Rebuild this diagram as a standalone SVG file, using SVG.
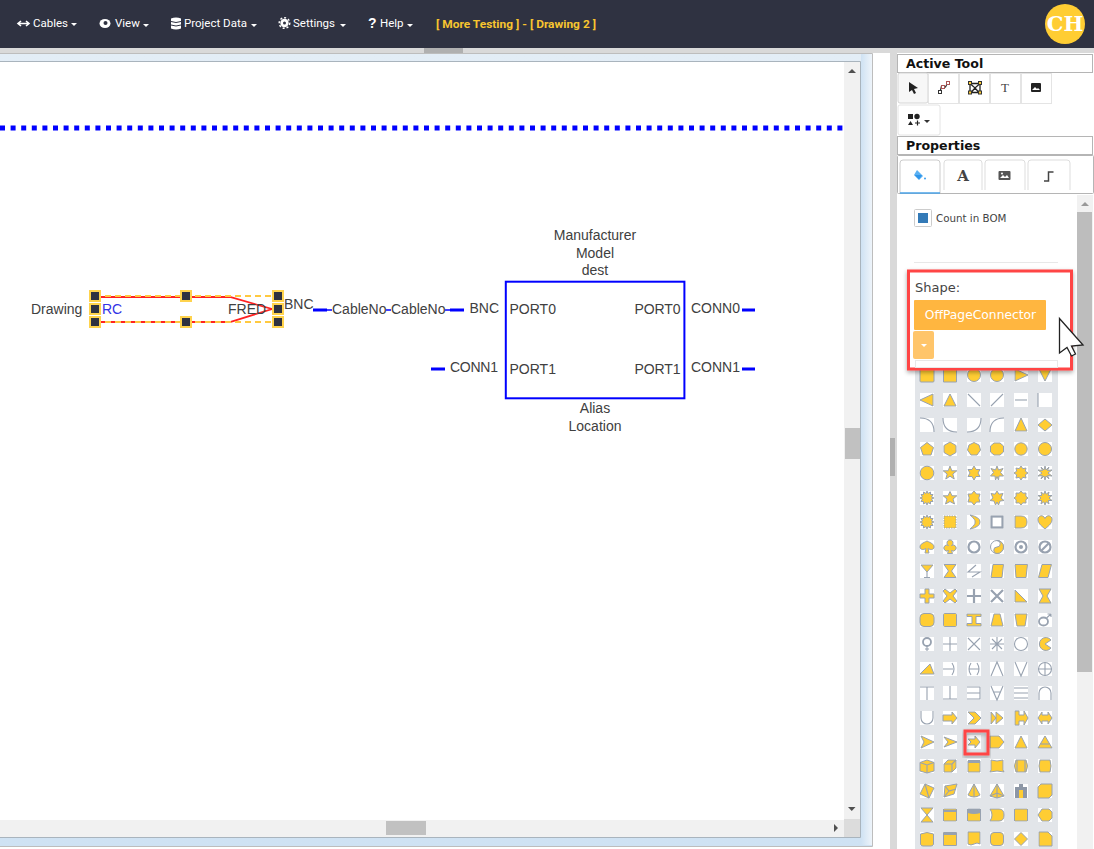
<svg xmlns="http://www.w3.org/2000/svg" width="1094" height="849" viewBox="0 0 1094 849">
<style>
text{font-family:"Liberation Sans",Arial,sans-serif}
.m{font-family:Roboto,"Liberation Sans",sans-serif;font-size:11.500px;font-weight:400;fill:#fff}
.tt{font-family:Roboto,"Liberation Sans",sans-serif;font-size:11.500px;font-weight:700;fill:#f7c52f}
.c{font-size:14px;fill:#404040}
.mid{text-anchor:middle}
.end{text-anchor:end}
.h{font-family:"DejaVu Sans",sans-serif;font-size:12.600px;font-weight:700;fill:#111}
.d{font-family:"DejaVu Sans",sans-serif;fill:#444}
.serif{font-family:"DejaVu Serif",serif}
.b{fill:#fff;stroke:#e4e4e4;stroke-width:1}
.stub{stroke:#00f;stroke-width:3;fill:none}
.thin{stroke:#00f;stroke-width:1.500;fill:none}
.hd{fill:#2f3241;stroke:#ffd34d;stroke-width:2}
.t{fill:#fff}
.f{fill:#ffcd33;stroke:#98a2b0;stroke-width:1;stroke-linejoin:round}
.l{fill:none;stroke:#98a2b0;stroke-width:1.100}
.k{fill:none;stroke:#98a2b0;stroke-width:2.200}
.sb{fill:#f1f1f1}
.th{fill:#c1c1c1}
.ar{fill:#505050}
.ic{fill:#222}
</style>
<defs>
<linearGradient id="fr" x1="0" y1="0" x2="0" y2="1"><stop offset="0" stop-color="#e3edf6"/><stop offset="1" stop-color="#cfe2f3"/></linearGradient>
<linearGradient id="fr2" x1="0" y1="0" x2="1" y2="0"><stop offset="0" stop-color="#cfe2f3"/><stop offset="1" stop-color="#eef4fa"/></linearGradient>
<filter id="sh" x="-10%" y="-10%" width="120%" height="125%"><feDropShadow dx="0" dy="2" stdDeviation="2" flood-color="#000" flood-opacity=".35"/></filter>
<rect id="tile" class="t" x="-7" y="-7" width="14" height="14"/>
</defs>

<g id="page-chrome">
<rect width="1094" height="849" fill="#fff"/>
<rect x="0" y="48" width="1094" height="5" fill="#d9d9d9"/>
<rect x="424" y="48" width="39" height="5" fill="#b0b0b0"/>
<rect x="0" y="53" width="872" height="793" fill="url(#fr)"/>
<rect x="861" y="54" width="11" height="791" fill="url(#fr2)"/>
<path d="M0 53.500H872.500V846.500H0" fill="none" stroke="#bdbdbd"/>
<path d="M0 61.500H860.500V837.500H0" fill="none" stroke="#a9b4bd"/>
<rect x="0" y="62" width="860" height="775" fill="#fff"/>
<rect x="890" y="53" width="7" height="796" fill="#d9d9d9"/>
<rect x="890" y="438" width="5" height="38" fill="#b0b0b0"/>
</g>

<g id="header">
<rect width="1094" height="48" fill="#2f3241"/>
<path d="M18 23.500H29M21 21l-3 2.500 3 2.500M26 21l3 2.500-3 2.500" fill="none" stroke="#fff" stroke-width="1.600"/>
<text class="m" x="33" y="27">Cables</text><path d="M71 23h6l-3 3z" fill="#fff"/>
<ellipse cx="105" cy="23.500" rx="5.500" ry="4.500" fill="#fff"/><circle cx="105.500" cy="23" r="2" fill="#2f3241"/>
<text class="m" x="115" y="27">View</text><path d="M143 24h6l-3 3z" fill="#fff"/>
<path d="M171 18.500q5-2 10 0v10q-5 2-10 0z" fill="#fff"/><path d="M171 21.500q5 2 10 0M171 25q5 2 10 0" fill="none" stroke="#2f3241"/>
<text class="m" x="184" y="27">Project Data</text><path d="M251 24h6l-3 3z" fill="#fff"/>
<circle cx="284.500" cy="23" r="4.200" fill="#fff"/><circle cx="284.500" cy="23" r="5.300" fill="none" stroke="#fff" stroke-width="1.400" stroke-dasharray="2 2"/><circle cx="284.500" cy="23" r="1.500" fill="#2f3241"/>
<text class="m" x="293" y="27">Settings</text><path d="M340 24h6l-3 3z" fill="#fff"/>
<text x="368" y="28" font-size="14" font-weight="700" fill="#fff">?</text>
<text class="m" x="380" y="27">Help</text><path d="M407 24h6l-3 3z" fill="#fff"/>
<text class="tt" x="436" y="28" textLength="160" lengthAdjust="spacingAndGlyphs">[ More Testing ] - [ Drawing 2 ]</text>
<circle cx="1065" cy="24" r="20" fill="#ffcd33"/>
<text x="1065" y="31" class="mid serif" font-size="21" font-weight="700" fill="#fff">CH</text>
</g>

<g id="scrollbars">
<rect class="sb" x="844" y="62" width="16" height="757"/>
<rect class="sb" x="0" y="820" width="844" height="17"/>
<rect x="844" y="819" width="16" height="18" fill="#dcdcdc"/>
<rect class="th" x="845" y="428" width="15" height="31"/>
<rect class="th" x="386" y="821" width="40" height="14"/>
<path class="ar" d="M848 73l4-4 4 4zM848 807h7.500l-3.750 4zM834 824v8l4-4z"/>
</g>

<g id="connectors">
<path d="M0 128H844" stroke="#00f" stroke-width="5" stroke-dasharray="5 5.600" fill="none"/>
<path class="stub" d="M313 310H327M450 310H464M431 369H445M742 310H755M742 369H755"/>
<path class="thin" d="M327 310H332M386 310H391M445 310H450"/>
<path d="M95 297H230L272 309L230 322H95" fill="none" stroke="#f22" stroke-width="1.800"/>
<path d="M95 296H278M95 322H278" fill="none" stroke="#ffc940" stroke-width="2" stroke-dasharray="6 4"/>
</g>

<g id="node-source">
<text class="c" x="31" y="314">Drawing</text>
<text x="102" y="314" font-size="14" fill="#3333e6">RC</text>
<text class="c" x="228" y="314">FRED</text>
<text class="c" x="284" y="309">BNC</text>
<g id="handles">
<rect class="hd" x="90" y="291" width="10" height="10"/><rect class="hd" x="181" y="291" width="10" height="10"/><rect class="hd" x="273" y="291" width="10" height="10"/>
<rect class="hd" x="90" y="304" width="10" height="10"/><rect class="hd" x="273" y="304" width="10" height="10"/>
<rect class="hd" x="90" y="317" width="10" height="10"/><rect class="hd" x="181" y="317" width="10" height="10"/><rect class="hd" x="273" y="317" width="10" height="10"/>
</g>
</g>

<g id="node-cable-labels">
<text class="c" x="332" y="314">CableNo</text>
<text class="c" x="391" y="314">CableNo</text>
</g>

<g id="node-device">
<rect x="505.800" y="281.700" width="178.600" height="116.600" fill="#fff" stroke="#00f" stroke-width="2"/>
<text class="c mid" x="595" y="240">Manufacturer</text>
<text class="c mid" x="595" y="258">Model</text>
<text class="c mid" x="595" y="275">dest</text>
<text class="c end" x="499" y="313">BNC</text>
<text class="c end" x="498" y="372" textLength="48">CONN1</text>
<text class="c" x="509.500" y="314">PORT0</text>
<text class="c" x="509.500" y="374">PORT1</text>
<text class="c" x="634.500" y="314" textLength="46">PORT0</text>
<text class="c" x="634.500" y="374" textLength="46">PORT1</text>
<text class="c" x="691" y="313">CONN0</text>
<text class="c" x="691" y="372">CONN1</text>
<text class="c mid" x="595" y="413">Alias</text>
<text class="c mid" x="595" y="431">Location</text>
</g>

<g id="panel-tools">
<rect x="897.500" y="54.500" width="195" height="18" fill="#fff" stroke="#b5b5b5"/>
<text class="h" x="906" y="68">Active Tool</text>
<rect x="898" y="73" width="30" height="30" rx="2" fill="#f7f7f7" stroke="#d5d5d5"/>
<rect class="b" x="928.500" y="73.500" width="30" height="30"/><rect class="b" x="959.500" y="73.500" width="30" height="30"/><rect class="b" x="990.500" y="73.500" width="30" height="30"/><rect class="b" x="1021.500" y="73.500" width="30" height="30"/>
<path class="ic" d="M909 82l9 6-4 1 2 4-2 1-2-4-3 2z"/>
<path d="M940 92l1.500-6 4 1 2.500-5" fill="none" stroke="#333" stroke-width="1.200"/><g fill="#fff" stroke="#333"><rect x="938.500" y="90.500" width="3" height="3"/><rect x="946.500" y="81.500" width="3" height="3" stroke="#a55"/><rect x="941.500" y="85.500" width="3" height="3" stroke="#a55"/></g>
<path d="M970 83.500h10v9h-10zM970 83.500l5 4.500 5-4.500M971 92.500l4-4.500 4 4.500" fill="none" stroke="#222" stroke-width="1.300"/><g fill="#ffcd33" stroke="#333"><rect x="968.500" y="81.500" width="3" height="3"/><rect x="978.500" y="81.500" width="3" height="3"/><rect x="968.500" y="91" width="3" height="3"/><rect x="978.500" y="91" width="3" height="3"/></g>
<text x="1005" y="92" class="mid" font-size="13" fill="#444" style="font-family:'Liberation Serif',serif">T</text>
<rect x="1031" y="83" width="10" height="9" rx="1" fill="#222"/><path d="M1032 90l3-3 2 2 1-1 2 2z" fill="#fff"/>
<rect x="898" y="105" width="42" height="30" rx="2" fill="#fff" stroke="#e4e4e4"/>
<rect x="908" y="114" width="5" height="5" fill="#222"/><circle cx="917" cy="116.500" r="2.700" fill="#222"/><path d="M908 125l2.500-4 2.500 4z" fill="#222"/><path d="M915 123h5M917.500 120.500v5" stroke="#222" stroke-width="1.200"/>
<path d="M924 120h6l-3 3z" fill="#333"/>
<rect x="897.500" y="136.500" width="195" height="18" fill="#fff" stroke="#b5b5b5"/>
<text class="h" x="906" y="150">Properties</text>
</g>

<g id="panel-tabs">
<rect x="897.500" y="155.500" width="196" height="38" rx="1" fill="#fff" stroke="#b5b5b5"/>
<path d="M900 193V163q0-3 3-3H937q3 0 3 3V193" fill="#fff" stroke="#ccc"/><path d="M900 193H940" stroke="#4aa3e8" stroke-width="1.500"/>
<path d="M944 190V163q0-3 3-3H979q3 0 3 3V190M985 190V163q0-3 3-3H1022q3 0 3 3V190M1028 190V163q0-3 3-3H1067q3 0 3 3V190" fill="#fff" stroke="#ddd"/>
<path d="M917 170l6 6-4 4-5-5z" fill="#5ab0f2"/><path d="M914.500 175H922l-3 4.500z" fill="#2f95ea"/><circle cx="925" cy="178.500" r="1" fill="#3ba0f0"/>
<text x="963" y="181" class="mid serif" font-size="15" font-weight="700" fill="#444">A</text>
<rect x="998.500" y="171" width="12" height="9" rx="1" fill="#555"/><path d="M1000 178l3-3 2 2 2-2 2 3z" fill="#fff"/><circle cx="1002" cy="173.500" r="1" fill="#fff"/>
<path d="M1044 181h4.500v-9h5" fill="none" stroke="#444" stroke-width="1.500"/>
</g>

<g id="panel-shape">
<rect x="1077" y="195" width="16" height="654" class="sb"/>
<rect x="1077" y="212" width="15" height="460" fill="#bdbdbd"/>
<path d="M1081 206l4-4 4 4z" fill="#999"/>
<rect x="914.500" y="209.500" width="17" height="17" rx="1" fill="#fff" stroke="#ccc"/>
<rect x="918" y="213" width="10" height="10" fill="#337ab7"/>
<text class="d" x="936" y="222" font-size="10.300">Count in BOM</text>
<path d="M914 262.500H1058" stroke="#e8e8e8"/>
</g>

<g id="shape-palette">
<rect x="915" y="362" width="143" height="487" fill="#e2e5e9"/>
<!-- row 0 -->
<g transform="translate(927,375)"><use href="#tile"/><rect class="f" x="-7" y="-6" width="14" height="13" rx="1"/></g>
<g transform="translate(950,375)"><use href="#tile"/><rect class="f" x="-6.500" y="-6" width="13" height="13"/></g>
<g transform="translate(974,375)"><use href="#tile"/><circle class="f" r="6.500"/></g>
<g transform="translate(997,375)"><use href="#tile"/><ellipse class="f" rx="6.500" ry="6.500"/></g>
<g transform="translate(1021,375)"><use href="#tile"/><path class="f" d="M-6-6L7 0L-6 6z"/></g>
<g transform="translate(1045,375)"><use href="#tile"/><path class="f" d="M-6-6H6L0 6z"/></g>
<!-- row 1 -->
<g transform="translate(927,400)"><use href="#tile"/><path class="f" d="M6-6V6L-7 0z"/></g>
<g transform="translate(950,400)"><use href="#tile"/><path class="f" d="M-6 6H6L0-6z"/></g>
<g transform="translate(974,400)"><use href="#tile"/><path class="l" d="M-6-6L6 6"/></g>
<g transform="translate(997,400)"><use href="#tile"/><path class="l" d="M-6 6L6-6"/></g>
<g transform="translate(1021,400)"><use href="#tile"/><path class="l" d="M-6 0H6"/></g>
<g transform="translate(1045,400)"><use href="#tile"/><path class="l" d="M-7-7V7"/></g>
<!-- row 2 -->
<g transform="translate(927,425)"><use href="#tile"/><path class="l" d="M-7-7Q7-7 7 7"/></g>
<g transform="translate(950,425)"><use href="#tile"/><path class="l" d="M-7-7Q-7 7 7 7"/></g>
<g transform="translate(974,425)"><use href="#tile"/><path class="l" d="M-7 7Q7 7 7-7"/></g>
<g transform="translate(997,425)"><use href="#tile"/><path class="l" d="M-7 7Q-7-7 7-7"/></g>
<g transform="translate(1021,425)"><use href="#tile"/><path class="f" d="M-6 6H6L0-7z"/></g>
<g transform="translate(1045,425)"><use href="#tile"/><path class="f" d="M0-6L7 0L0 6L-7 0z"/></g>
<!-- row 3 -->
<g transform="translate(927,449)"><use href="#tile"/><path class="f" d="M0-6.500L6.500-1.500L4 6H-4L-6.500-1.500z"/></g>
<g transform="translate(950,449)"><use href="#tile"/><path class="f" d="M0-7L6-3.500V3.500L0 7L-6 3.500V-3.500z"/></g>
<g transform="translate(974,449)"><use href="#tile"/><path class="f" d="M0-6.500L5-4L6.500 1L3 6H-3L-6.500 1L-5-4z"/></g>
<g transform="translate(997,449)"><use href="#tile"/><path class="f" d="M-3-6H3L6.500-3V3L3 6H-3L-6.500 3V-3z"/></g>
<g transform="translate(1021,449)"><use href="#tile"/><circle class="f" r="6.200"/></g>
<g transform="translate(1045,449)"><use href="#tile"/><circle class="f" r="6.500"/></g>
<!-- row 4 -->
<g transform="translate(927,473)"><use href="#tile"/><circle class="f" r="6.800"/></g>
<g transform="translate(950,473)"><use href="#tile"/><path class="f" d="M0-7L1.800-2.200H6.800L2.800 1L4.200 6L0 3.200L-4.200 6L-2.800 1L-6.800-2.200H-1.800z"/></g>
<g transform="translate(974,473)"><use href="#tile"/><path class="f" d="M0-7L2-3.500H6L4 0L6 3.500H2L0 7L-2 3.500H-6L-4 0L-6-3.500H-2z"/></g>
<g transform="translate(997,473)"><use href="#tile"/><path class="f" d="M0-7L1.500-3L6-4.500L3.500-.5L6.500 3L2 3L1.500 7L0 3.500L-1.500 7L-2 3L-6.500 3L-3.500-.5L-6-4.500L-1.500-3z"/></g>
<g transform="translate(1021,473)"><use href="#tile"/><path class="f" d="M0-7L1.800-4.300L5-5L4.300-1.800L7 0L4.300 1.800L5 5L1.800 4.300L0 7L-1.800 4.300L-5 5L-4.300 1.800L-7 0L-4.300-1.800L-5-5L-1.800-4.300z"/></g>
<g transform="translate(1045,473)"><use href="#tile"/><path class="f" d="M0-7L1-3L4-6L2.500-2.500L7-3L3 0L7 3L2.500 2.500L4 6L1 3L0 7L-1 3L-4 6L-2.500 2.500L-7 3L-3 0L-7-3L-2.500-2.500L-4-6L-1-3z"/></g>
<!-- row 5 -->
<g transform="translate(927,498)"><use href="#tile"/><path class="f" d="M0-7L1-4.500L3.500-6L3.500-3.500L6-3.500L4.500-1L7 0L4.500 1L6 3.500L3.500 3.500L3.500 6L1 4.500L0 7L-1 4.500L-3.500 6L-3.500 3.500L-6 3.500L-4.500 1L-7 0L-4.500-1L-6-3.500L-3.500-3.500L-3.500-6L-1-4.500z"/></g>
<g transform="translate(950,498)"><use href="#tile"/><path class="f" d="M0-6.500L2-2.200H6.800L3 1L4.500 6L0 3.500L-4.500 6L-3 1L-6.800-2.200H-2z"/></g>
<g transform="translate(974,498)"><use href="#tile"/><path class="f" d="M0-7L2.500-4H6L4.800 0L6 4H2.500L0 7L-2.500 4H-6L-4.800 0L-6-4H-2.500z"/></g>
<g transform="translate(997,498)"><use href="#tile"/><path class="f" d="M0-7L2-3.800L6-4.500L4 0L7 2.500L3 3L1.500 7L0 4L-1.500 7L-3 3L-7 2.500L-4 0L-6-4.500L-2-3.800z"/></g>
<g transform="translate(1021,498)"><use href="#tile"/><path class="f" d="M0-7L1.800-4.800L5-5L4.800-1.800L7 0L4.800 1.800L5 5L1.800 4.800L0 7L-1.800 4.800L-5 5L-4.800 1.800L-7 0L-4.800-1.800L-5-5L-1.800-4.800z"/></g>
<g transform="translate(1045,498)"><use href="#tile"/><path class="f" d="M0-7L1.200-3.800L4-6L3.200-2.500L7-2.500L4 0L7 2.500L3.200 2.500L4 6L1.200 3.800L0 7L-1.200 3.800L-4 6L-3.200 2.500L-7 2.500L-4 0L-7-2.500L-3.200-2.500L-4-6L-1.200-3.800z"/></g>
<!-- row 6 -->
<g transform="translate(927,522)"><use href="#tile"/><path class="f" d="M0-7L1-4.500L3.500-6L3.500-3.500L6-3.500L4.500-1L7 0L4.500 1L6 3.500L3.500 3.500L3.500 6L1 4.500L0 7L-1 4.500L-3.500 6L-3.500 3.500L-6 3.500L-4.500 1L-7 0L-4.500-1L-6-3.500L-3.500-3.500L-3.500-6L-1-4.500z"/></g>
<g transform="translate(950,522)"><use href="#tile"/><rect class="f" x="-6" y="-6" width="12" height="12" stroke-dasharray="1.500 1"/></g>
<g transform="translate(974,522)"><use href="#tile"/><path class="f" d="M-4-7Q6-5 6 0Q6 5-4 7Q2 2 1 0Q2-2-4-7z"/></g>
<g transform="translate(997,522)"><use href="#tile"/><rect x="-5.500" y="-5.500" width="11" height="11" fill="#fff" stroke="#98a2b0" stroke-width="2.200"/></g>
<g transform="translate(1021,522)"><use href="#tile"/><path class="f" d="M-6-6H0Q6-6 6 0Q6 6 0 6H-6z"/></g>
<g transform="translate(1045,522)"><use href="#tile"/><path class="f" d="M0-3.500C2-8 7-6.500 7-2.500C7 2 2 5 0 7C-2 5-7 2-7-2.500C-7-6.500-2-8 0-3.500z"/></g>
<!-- row 7 -->
<g transform="translate(927,547)"><use href="#tile"/><path class="f" d="M0-6C4-4 7-3 7 0C7 3 3 3 1 1.500L2 6H-2L-1 1.500C-3 3-7 3-7 0C-7-3-4-4 0-6z"/></g>
<g transform="translate(950,547)"><use href="#tile"/><path class="f" d="M-1.500-1.500A3 3 0 1 1 1.500-1.500A3 3 0 1 1 1.500 3.500L2.500 6.500H-2.500L-1.500 3.500A3 3 0 1 1-1.500-1.500z"/></g>
<g transform="translate(974,547)"><use href="#tile"/><circle r="5.500" class="k"/></g>
<g transform="translate(997,547)"><use href="#tile"/><circle r="6.500" fill="#fff" stroke="#98a2b0"/><path class="f" d="M0-6.500A6.500 6.500 0 0 1 0 6.500A3.200 3.200 0 0 1 0 0A3.200 3.200 0 0 0 0-6.500z"/></g>
<g transform="translate(1021,547)"><use href="#tile"/><circle r="5.500" class="k"/><circle r="2" fill="#98a2b0"/></g>
<g transform="translate(1045,547)"><use href="#tile"/><circle r="5.500" class="k"/><path class="k" d="M-4 4L4-4"/></g>
<!-- row 8 -->
<g transform="translate(927,571)"><use href="#tile"/><path class="f" d="M-6-6H6L0 1z"/><path class="l" d="M0 1V6M-3 6.500H3"/></g>
<g transform="translate(950,571)"><use href="#tile"/><path class="f" d="M-6-6.500H6L1.500 0L6 6.500H-6L-1.500 0z"/></g>
<g transform="translate(974,571)"><use href="#tile"/><path class="l" d="M2-6L-6 1H6L-2 6" stroke-width="1.500"/></g>
<g transform="translate(997,571)"><use href="#tile"/><path class="f" d="M-4-6.500H6.500L5 6.500H-6z"/></g>
<g transform="translate(1021,571)"><use href="#tile"/><path class="f" d="M-6-6.500H6.500L5 6.500H-5z"/></g>
<g transform="translate(1045,571)"><use href="#tile"/><path class="f" d="M-3-6.500H6.500L3 6.500H-6.500z"/></g>
<!-- row 9 -->
<g transform="translate(927,596)"><use href="#tile"/><path class="f" d="M-2-7H2V-2H7V2H2V7H-2V2H-7V-2H-2z"/></g>
<g transform="translate(950,596)"><use href="#tile"/><path class="f" d="M-5-7L0-3L5-7L7-5L3 0L7 5L5 7L0 3L-5 7L-7 5L-3 0L-7-5z"/></g>
<g transform="translate(974,596)"><use href="#tile"/><path class="k" d="M0-7V7M-7 0H7"/></g>
<g transform="translate(997,596)"><use href="#tile"/><path class="k" d="M-6-6L6 6M6-6L-6 6"/></g>
<g transform="translate(1021,596)"><use href="#tile"/><path class="f" d="M-6-6L6 6H-6z"/></g>
<g transform="translate(1045,596)"><use href="#tile"/><path class="f" d="M-6-7H6L2 0L6 7H-6L-2 0z"/></g>
<!-- row 10 -->
<g transform="translate(927,620)"><use href="#tile"/><rect class="f" x="-7" y="-6.500" width="14" height="13" rx="4"/></g>
<g transform="translate(950,620)"><use href="#tile"/><rect class="f" x="-6.500" y="-6.500" width="13" height="13" rx="1"/></g>
<g transform="translate(974,620)"><use href="#tile"/><path class="f" d="M-7-6H7V-3.500H2V3.500H7V6H-7V3.500H-2V-3.500H-7z"/></g>
<g transform="translate(997,620)"><use href="#tile"/><path class="f" d="M-3-6H3L6 6H-6z"/></g>
<g transform="translate(1021,620)"><use href="#tile"/><path class="f" d="M-6-6H6L4 6H-4z"/></g>
<g transform="translate(1045,620)"><use href="#tile"/><ellipse cx="-1.500" cy="1.500" rx="4.500" ry="4" class="k" style="stroke-width:1.800"/><path class="l" d="M1.500-2L6-6M2.500-6H6V-3"/></g>
<!-- row 11 -->
<g transform="translate(927,644)"><use href="#tile"/><circle cy="-2" r="4" class="k" style="stroke-width:1.800"/><path class="l" d="M0 2V7M-2 5H2"/></g>
<g transform="translate(950,644)"><use href="#tile"/><path class="l" d="M0-7V7M-7 0H7"/></g>
<g transform="translate(974,644)"><use href="#tile"/><path class="l" d="M-6-6L6 6M6-6L-6 6"/></g>
<g transform="translate(997,644)"><use href="#tile"/><path class="l" d="M0-7V7M-7 0H7M-5-5L5 5M5-5L-5 5"/></g>
<g transform="translate(1021,644)"><use href="#tile"/><circle r="6.500" class="l"/></g>
<g transform="translate(1045,644)"><use href="#tile"/><path class="f" d="M6-4A6.500 6.500 0 1 0 6 4L0 0z"/></g>
<!-- row 12 -->
<g transform="translate(927,669)"><use href="#tile"/><path class="f" d="M-7 5L3-5L7 5z"/></g>
<g transform="translate(950,669)"><use href="#tile"/><path class="l" d="M-7 0H3M2-6Q6 0 2 6"/></g>
<g transform="translate(974,669)"><use href="#tile"/><path class="l" d="M-3-6Q-7 0-3 6M3-6Q7 0 3 6M-5 0H5"/></g>
<g transform="translate(997,669)"><use href="#tile"/><path class="l" d="M-6 7L0-7L6 7"/></g>
<g transform="translate(1021,669)"><use href="#tile"/><path class="l" d="M-6-7L0 7L6-7"/></g>
<g transform="translate(1045,669)"><use href="#tile"/><circle r="6.500" class="l"/><path class="l" d="M0-6.500V6.500M-6.500 0H6.500"/></g>
<!-- row 13 -->
<g transform="translate(927,693)"><use href="#tile"/><path class="l" d="M-7-6H7M0-6V7"/></g>
<g transform="translate(950,693)"><use href="#tile"/><path class="l" d="M0-7V6M-7 6H7"/></g>
<g transform="translate(974,693)"><use href="#tile"/><path class="l" d="M-7-6H6V6H-7M-7 0H6"/></g>
<g transform="translate(997,693)"><use href="#tile"/><path class="l" d="M-6-7L0 7L6-7M-4-1H4"/></g>
<g transform="translate(1021,693)"><use href="#tile"/><path class="l" d="M-7-5H7M-7 0H7M-7 5H7"/></g>
<g transform="translate(1045,693)"><use href="#tile"/><path class="l" d="M-6 7V0A6 6 0 0 1 6 0V7"/></g>
<!-- row 14 -->
<g transform="translate(927,718)"><use href="#tile"/><path class="l" d="M-6-7V0A6 6 0 0 0 6 0V-7"/></g>
<g transform="translate(950,718)"><use href="#tile"/><path class="f" d="M-7-3H2V-6L7 0L2 6V3H-7z"/></g>
<g transform="translate(974,718)"><use href="#tile"/><path class="f" d="M-6-6H1L7 0L1 6H-6L0 0z"/></g>
<g transform="translate(997,718)"><use href="#tile"/><path class="f" d="M-6-6L-1 0L-6 6zM-1-6L6 0L-1 6z"/></g>
<g transform="translate(1021,718)"><use href="#tile"/><path class="f" d="M-6-7H-2V-3H3V-7L7 0L3 7V3H-2V7H-6z"/></g>
<g transform="translate(1045,718)"><use href="#tile"/><path class="f" d="M-3-6V-3H3V-6L7 0L3 6V3H-3V6L-7 0z"/></g>
<!-- row 15 -->
<g transform="translate(927,742)"><use href="#tile"/><path class="f" d="M-6-6L7 0L-6 6L-3 0z"/></g>
<g transform="translate(950,742)"><use href="#tile"/><path class="f" d="M-6-5L7 0L-6 5L-2 0z"/></g>
<g transform="translate(974,742)"><use href="#tile"/><path class="f" d="M-6-3H1V-6L6 0L1 6V3H-6L-3 0z"/></g>
<g transform="translate(997,742)"><use href="#tile"/><path class="f" d="M-7-6H2L7 0L2 6H-7z"/></g>
<g transform="translate(1021,742)"><use href="#tile"/><path class="f" d="M-6 6H6L0-6z"/></g>
<g transform="translate(1045,742)"><use href="#tile"/><path class="f" d="M-7 6H7L0-6z"/><path class="l" d="M-4.500 2H4.500"/></g>
<!-- row 16 -->
<g transform="translate(927,766)"><use href="#tile"/><path class="f" d="M-7-3.500L0-6L7-3.500V5L0 7L-7 5z"/><path class="l" d="M-7-3.500L0-1L7-3.500M0-1V7"/></g>
<g transform="translate(950,766)"><use href="#tile"/><path class="f" d="M-6-2L-2-6H6V2L2 6H-6z"/><path class="l" d="M-6-2H2V6M2-2L6-6"/></g>
<g transform="translate(974,766)"><use href="#tile"/><rect class="f" x="-6" y="-5" width="12" height="11"/><path d="M-6-6H6V-3H-6z" fill="#98a2b0"/></g>
<g transform="translate(997,766)"><use href="#tile"/><path class="f" d="M-6-6Q0-4 6-6V4L7 6Q0 4-7 6L-6 4z"/></g>
<g transform="translate(1021,766)"><use href="#tile"/><path class="f" d="M-5-6H5Q8 0 5 6H-5Q-8 0-5-6z"/><path class="l" d="M-4-6V6M4-6V6"/></g>
<g transform="translate(1045,766)"><use href="#tile"/><path class="f" d="M-5-6H5Q7 0 5 6H-5Q-7 0-5-6z"/></g>
<!-- row 17 -->
<g transform="translate(927,791)"><use href="#tile"/><path class="f" d="M-2-7L7-3L2 7L-7 3z"/><path class="l" d="M-2-7L2 7"/></g>
<g transform="translate(950,791)"><use href="#tile"/><path class="f" d="M-5-5L7-7L4 3L-6 6z"/><path class="l" d="M-5-5L-1 0L6-2M-1 0L-6 6"/></g>
<g transform="translate(974,791)"><use href="#tile"/><path class="f" d="M0-7L6 4Q0 8-6 4z"/><path class="l" d="M0-7V6"/></g>
<g transform="translate(997,791)"><use href="#tile"/><path class="f" d="M0-7L7 5L0 7L-7 5z"/><path class="l" d="M0-7V7M-7 5L0 2L7 5"/></g>
<g transform="translate(1021,791)"><use href="#tile"/><path d="M-2-7H2V-4H6V7H-6V-4H-2z" fill="#8d97a6"/><path d="M-2-1H2V7H-2z" fill="#ffcd33"/></g>
<g transform="translate(1045,791)"><use href="#tile"/><path class="f" d="M-4-7H7V4L4 7H-7V-4z"/></g>
<!-- row 18 -->
<g transform="translate(927,815)"><use href="#tile"/><path class="f" d="M-6-7H6L-6 7H6z"/></g>
<g transform="translate(950,815)"><use href="#tile"/><rect class="f" x="-6.500" y="-6" width="13" height="12"/><path class="l" d="M-6.500-4H6.500" style="stroke-width:2"/></g>
<g transform="translate(974,815)"><use href="#tile"/><rect class="f" x="-6.500" y="-6" width="13" height="12"/><path d="M-6.500-6H6.500V-2Q0 0-6.500-2z" fill="#98a2b0"/></g>
<g transform="translate(997,815)"><use href="#tile"/><path class="f" d="M-7-6H2Q7-6 7 0Q7 6 2 6H-7Q-3 0-7-6z"/></g>
<g transform="translate(1021,815)"><use href="#tile"/><rect class="f" x="-6.500" y="-6" width="13" height="12"/></g>
<g transform="translate(1045,815)"><use href="#tile"/><path class="f" d="M-3-6H4L7-3V3L4 6H-3L-7 0z"/></g>
<!-- row 19 -->
<g transform="translate(927,839)"><use href="#tile"/><path class="f" d="M-6.500-5Q0-8 6.500-5V5Q6.500 7 4 7H-4Q-6.500 7-6.500 5z"/></g>
<g transform="translate(950,839)"><use href="#tile"/><rect class="f" x="-6.500" y="-6.500" width="13" height="13"/><path class="l" d="M-6.500-5H6.500" style="stroke-width:2"/></g>
<g transform="translate(974,839)"><use href="#tile"/><path class="f" d="M-6-7H6V5Q3 3 0 5Q-3 7-6 5z"/></g>
<g transform="translate(997,839)"><use href="#tile"/><rect class="f" x="-6.500" y="-6.500" width="13" height="13" rx="3.500"/></g>
<g transform="translate(1021,839)"><use href="#tile"/><path class="f" d="M0-6.500L6.500 0L0 6.500L-6.500 0z"/></g>
<g transform="translate(1045,839)"><use href="#tile"/><path class="f" d="M-6-7H3L7-3V7H-6z"/></g>
<rect x="965" y="731" width="23" height="23" fill="none" stroke="#f44" stroke-width="3" filter="url(#sh)"/>
</g>

<g id="shape-selector">
<rect x="908.500" y="271" width="163" height="98" fill="#fff" stroke="#f44" stroke-width="3" filter="url(#sh)"/>
<text class="d" x="915" y="292" font-size="13">Shape:</text>
<rect x="914" y="300" width="132" height="30" rx="1" fill="#ffb640"/>
<text x="980.500" y="319" class="mid" font-size="12.300" fill="#fff" style="font-family:'DejaVu Sans',sans-serif">OffPageConnector</text>
<rect x="913" y="331" width="21" height="28" rx="2" fill="#ffc56a"/>
<path d="M921 344h6l-3 3z" fill="#fff"/>
<rect x="915.500" y="360.500" width="142" height="7" fill="#fff" stroke="#e8e8e8"/>
<path d="M1059.500 318.500V353L1067 347.500L1071.500 356L1075.500 354L1071.500 346L1083 345z" fill="#fff" stroke="#222" stroke-width="1.300"/>
</g>
</svg>
